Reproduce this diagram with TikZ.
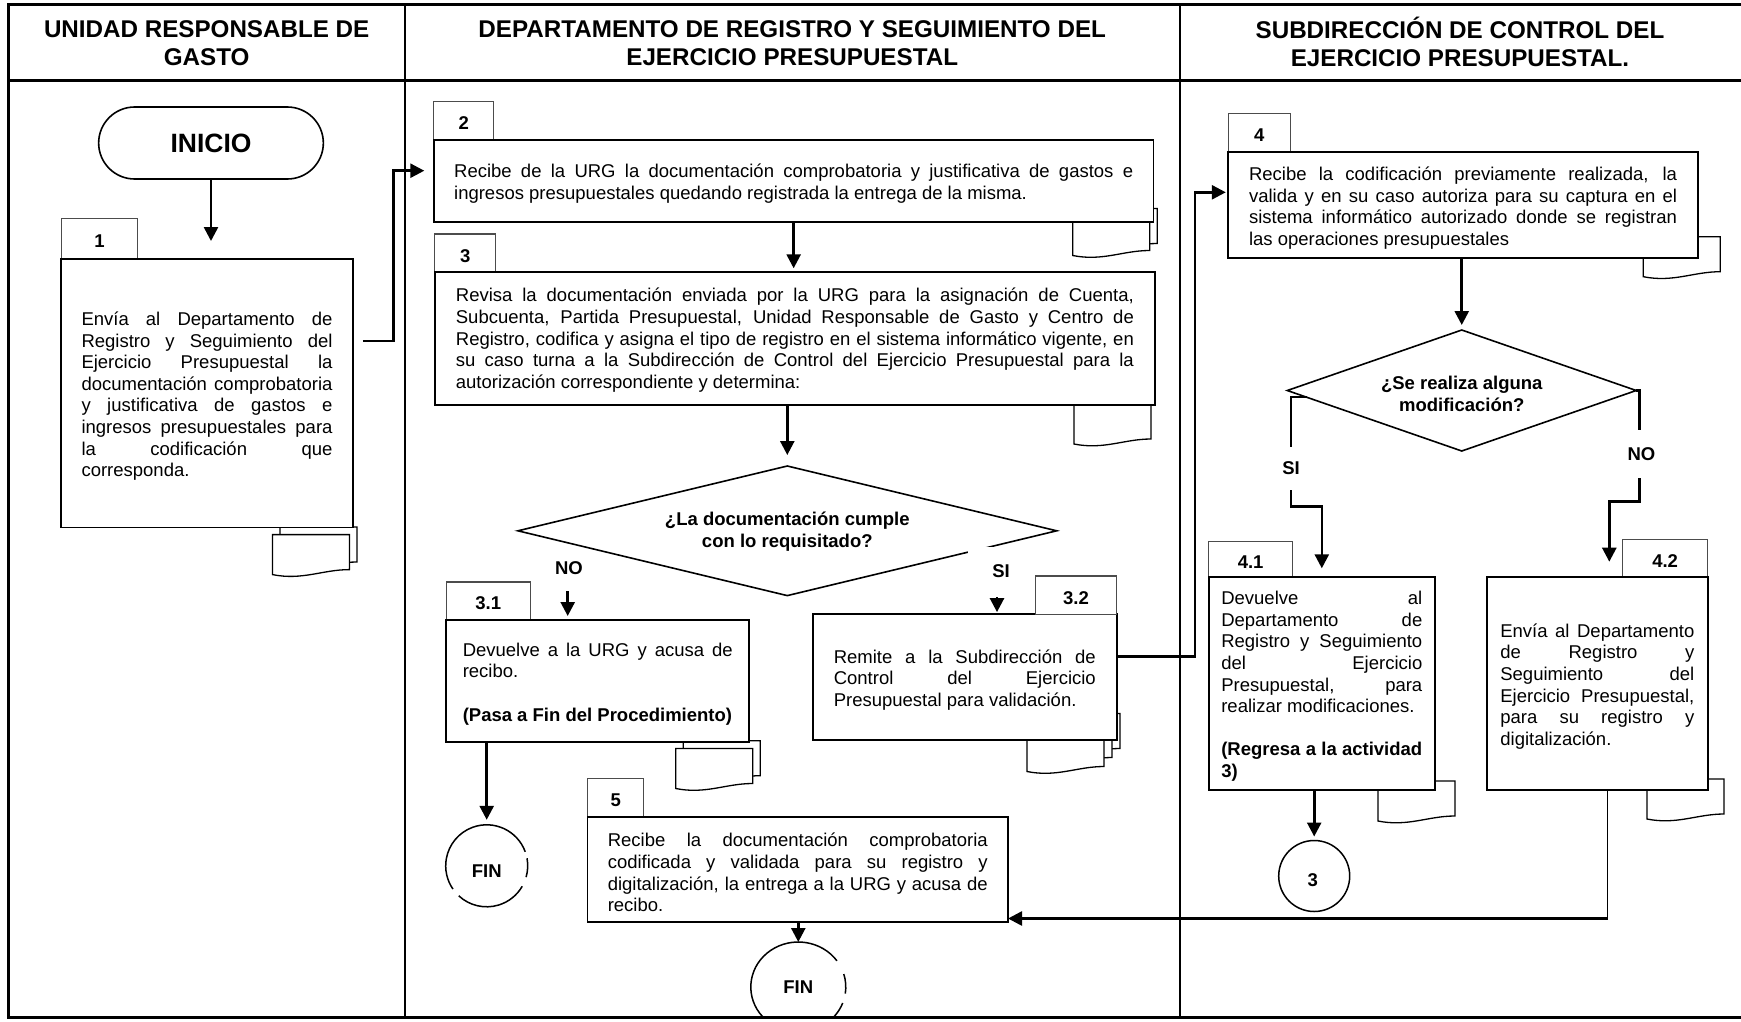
\documentclass[tikz,border=0pt]{standalone}
\usepackage{fontspec}
\setmainfont{Liberation Sans}
\usetikzlibrary{arrows.meta,calc,shapes.geometric}
\tolerance=10000
\hbadness=10000
\hyphenpenalty=10000
\exhyphenpenalty=10000

% one sheet of a document symbol, top-left corner at (#1,#2)
\newcommand\docpg[2]{%
  \begin{scope}[shift={(#1,#2)}]
    \draw[docp] (0,0) -- (77,0) -- (77,35) .. controls (50,35) and (30,46) .. (0,40) -- cycle;
  \end{scope}}

\begin{document}
\begin{tikzpicture}[x=1pt,y=-1pt,
  box/.style={draw, line width=1.9pt, fill=white, inner sep=0pt, outer sep=0pt},
  boxtext/.style={inner sep=0pt, align=justify, font=\fontsize{18.5pt}{21.6pt}\selectfont},
  tabbox/.style={draw=black!70, line width=1.1pt, fill=white, inner sep=0pt, outer sep=0pt,
    text height=18.2pt, text depth=0pt, font=\fontsize{18.5pt}{20pt}\selectfont\bfseries},
  docp/.style={draw, line width=1.3pt, fill=white},
  conn/.style={line width=2.6pt, -{Triangle[length=14pt,width=14pt]}},
  thinconn/.style={line width=1.4pt},
  ring/.style={line width=1.5pt},
  decision/.style={diamond, draw, line width=1.6pt, fill=white, inner sep=0pt, outer sep=0pt},
  dectext/.style={align=center, font=\fontsize{18.5pt}{22pt}\selectfont\bfseries},
  lbl/.style={inner sep=0pt, font=\fontsize{18.5pt}{20pt}\selectfont\bfseries},
  lanehead/.style={align=center, font=\fontsize{24.2pt}{28pt}\selectfont\bfseries},
  endtext/.style={font=\fontsize{18.5pt}{20pt}\selectfont\bfseries}
]
\useasboundingbox (0,0) rectangle (1741,1021);
\fill[white] (0,0) rectangle (1741,1021);

% ---------- document symbols (behind the activity boxes) ----------
\docpg{280}{527}\docpg{272.5}{534.6}
\docpg{1080.3}{208.5}\docpg{1072.7}{215.5}
\docpg{1074}{404}
\docpg{683.3}{740.7}\docpg{675.7}{748.5}
\docpg{1043}{713.5}\docpg{1035}{722.5}\docpg{1027}{731.5}
\docpg{1643.3}{236.7}
\docpg{1377.9}{781}
\docpg{1647}{779}

% ---------- start ----------
\node[draw, line width=1.6pt, rounded corners=36pt, minimum width=224.7pt, minimum height=72pt,
  inner sep=0pt, outer sep=0pt, font=\fontsize{26.5pt}{30pt}\selectfont\bfseries] (ini) at (211,143) {INICIO};

% ---------- number tabs ----------
\node[tabbox, minimum width=76.6pt, minimum height=40.4pt] (t1) at (99.5,238.8) {1};
\node[tabbox, minimum width=59.7pt, minimum height=38.3pt] (t2) at (463.65,120.85) {2};
\node[tabbox, minimum width=60.7pt, minimum height=38.3pt] (t3) at (465.15,253.15) {3};
\node[tabbox, minimum width=84pt, minimum height=37.7pt] (t31) at (488.3,600.85) {3.1};
\node[tabbox, minimum width=56.3pt, minimum height=38.5pt] (t5) at (615.65,797.55) {5};
\node[tabbox, minimum width=61.9pt, minimum height=38.4pt] (t4) at (1259.25,132.5) {4};
\node[tabbox, minimum width=84.1pt, minimum height=35pt] (t41) at (1250.65,559.2) {4.1};
\node[tabbox, minimum width=85.1pt, minimum height=37.4pt] (t42) at (1665.15,558) {4.2};

% ---------- activity boxes ----------
\node[box, minimum width=291.6pt, minimum height=268.5pt] (b1) at (207,393.25) {};
\node[boxtext, text width=251pt] (b1t) at ([yshift=-3pt]b1.center)
  {Envía al Departamento de\linebreak Registro y Seguimiento del\linebreak Ejercicio Presupuestal la\linebreak documentación comprobatoria\linebreak y justificativa de gastos e\linebreak ingresos presupuestales para\linebreak la codificación que\linebreak corresponda.};
\node[box, minimum width=719.7pt, minimum height=81.7pt] (b2) at (793.65,180.85) {};
\node[boxtext, text width=679pt] (b2t) at ([yshift=-3pt]b2.center)
  {Recibe de la URG la documentación comprobatoria y justificativa de gastos e\linebreak ingresos presupuestales quedando registrada la entrega de la misma.};
\node[box, minimum width=720.2pt, minimum height=133pt] (b3) at (794.9,338.8) {};
\node[boxtext, text width=678pt] (b3t) at ([yshift=-1.5pt]b3.center)
  {Revisa la documentación enviada por la URG para la asignación de Cuenta,\linebreak Subcuenta, Partida Presupuestal, Unidad Responsable de Gasto y Centro de\linebreak Registro, codifica y asigna el tipo de registro en el sistema informático vigente, en\linebreak su caso turna a la Subdirección de Control del Ejercicio Presupuestal para la\linebreak autorización correspondiente y determina:};
\node[box, minimum width=302.9pt, minimum height=122.6pt] (b31) at (597.75,681) {};
\node[boxtext, text width=270pt] (b31t) at ([yshift=-3pt]b31.center)
  {Devuelve a la URG y acusa de\linebreak recibo.\par\vspace{21.6pt}\textbf{(Pasa a Fin del Procedimiento)}};
\node[box, minimum width=303.6pt, minimum height=125.7pt] (b32) at (964.8,676.95) {};
\node[boxtext, text width=262pt] (b32t) at ([yshift=-3pt]b32.center)
  {Remite a la Subdirección de\linebreak Control del Ejercicio\linebreak Presupuestal para validación.};
\node[box, minimum width=420.5pt, minimum height=105.6pt] (b5) at (797.75,869.6) {};
\node[boxtext, text width=380pt] (b5t) at ([yshift=-3pt]b5.center)
  {Recibe la documentación comprobatoria\linebreak codificada y validada para su registro y\linebreak digitalización, la entrega a la URG y acusa de\linebreak recibo.};
\node[box, minimum width=469.4pt, minimum height=106.6pt] (b4) at (1463,205) {};
\node[boxtext, text width=428pt] (b4t) at ([yshift=-3pt]b4.center)
  {Recibe la codificación previamente realizada, la\linebreak valida y en su caso autoriza para su captura en el\linebreak sistema informático autorizado donde se registran\linebreak las operaciones presupuestales};
\node[box, minimum width=226.4pt, minimum height=213.3pt] (b41) at (1321.8,683.35) {};
\node[boxtext, text width=201pt] (b41t) at ([yshift=-3pt]b41.center)
  {Devuelve al\linebreak Departamento de\linebreak Registro y Seguimiento\linebreak del Ejercicio\linebreak Presupuestal, para\linebreak realizar modificaciones.\par\vspace{21.6pt}\textbf{(Regresa a la actividad\linebreak 3)}};
\node[box, minimum width=220.7pt, minimum height=213.3pt] (b42) at (1597.35,683.35) {};
\node[boxtext, text width=194pt] (b42t) at ([yshift=-3pt]b42.center)
  {Envía al Departamento\linebreak de Registro y\linebreak Seguimiento del\linebreak Ejercicio Presupuestal,\linebreak para su registro y\linebreak digitalización.};

% ---------- decisions ----------
\node[decision, minimum width=538.8pt, minimum height=129.6pt] (dec1) at (787.3,530.8) {};
\node[dectext] (dec1t) at ([yshift=-1pt]dec1.center) {¿La documentación cumple\\con lo requisitado?};
\node[decision, minimum width=348.9pt, minimum height=121pt] (dec2) at (1461.75,390.5) {};
\node[dectext] (dec2t) at ([yshift=-3.5pt]dec2.center) {¿Se realiza alguna\\modificación?};

% ---------- end points and connector ----------
\node[circle, minimum size=82pt, inner sep=0pt, outer sep=0pt, endtext, text height=23pt, text depth=0pt] (fin1) at (486.7,865.8) {FIN};
\draw[ring] (fin1.20) arc[start angle=20, end angle=214.6, radius=41pt];
\draw[ring] (fin1.227) arc[start angle=227, end angle=330, radius=41pt];
\draw[ring] (fin1.344) arc[start angle=344, end angle=370.6, radius=41pt];

\node[ellipse, minimum width=95pt, minimum height=90pt, inner sep=0pt, outer sep=0pt, endtext, text height=13.5pt, text depth=0pt] (fin2) at (798.3,987) {FIN};
\begin{scope}
  \clip (0,0) rectangle (1741,1016);
  \draw[ring] ([shift={(35.6:47.5pt and 45pt)}]fin2.center) arc[start angle=35.6, end angle=339.2, x radius=47.5pt, y radius=45pt];
  \draw[ring] ([shift={(-8.5:47.5pt and 45pt)}]fin2.center) arc[start angle=-8.5, end angle=16.7, x radius=47.5pt, y radius=45pt];
\end{scope}

\node[circle, draw, line width=1.5pt, minimum size=71pt, inner sep=0pt, outer sep=0pt, endtext, text height=21pt, text depth=0pt] (c3) at (1314.2,876) {\hspace*{-3pt}3};

% ---------- connectors ----------
\coordinate (b1out) at (362.8,341);
\coordinate (j1) at (393.4,170.7);
\coordinate (noA) at (567.7,591);
\coordinate (siA) at (997,597);
\coordinate (s1) at (1291,506.7);
\coordinate (n1) at (1639.7,501.7);
\coordinate (n2) at (1609.3,501.7);
\coordinate (m1) at (1607.5,918.5);
\coordinate (k1) at (1195,656.7);
\coordinate (k2) at (1195,192.3);

\draw[conn, shorten >=18pt] (ini.south) -- (ini.south |- b1.north);
\draw[conn, shorten >=9.5pt] (b1out) -| (j1) -- (j1 -| b2.west);
\draw[conn, shorten >=4pt] (b2.south) -- (b2.south |- b3.north);
\draw[conn, shorten >=11pt] (b3.south -| dec1.north) -- (dec1.north);
\draw[conn, shorten >=3.7pt] (noA) -- (noA |- b31.north);
\draw[conn, shorten >=2pt] (siA) -- (siA |- b32.north);
\draw[conn, shorten >=5pt] (fin1.north |- b31.south) -- (fin1.north);
\draw[conn] (b5.south -| fin2.north) -- (fin2.north);
\draw[conn, shorten >=2.5pt] (k1 -| b32.east) -- (k1) -- (k2) -- (k2 -| b4.west);
\draw[conn, shorten >=5pt] (b4.south -| dec2.north) -- (dec2.north);
\draw[conn, shorten >=8.4pt] ($(dec2.west)!0.11!(dec2.south)$) -| (s1) -| (b41.north);
\draw[conn, shorten >=15pt] (dec2.east) -| (n1) -- (n2) -- (n2 |- b42.north);
\draw[conn, shorten >=4pt] (c3.north |- b41.south) -- (c3.north);
\draw[thinconn] (m1 |- b42.south) -- (m1);
\draw[conn] ([xshift=0.7pt]m1) -- (m1 -| b5.east);

% ---------- branch labels ----------
\node[lbl] (no1) at (569,567.8) {NO};
\node[lbl, fill=white, minimum width=66pt, minimum height=48pt] (si1) at (1001,571) {SI};
\node[lbl, fill=white, minimum width=28pt, minimum height=43pt] (si2) at (1291,468.3) {SI};
\node[lbl, fill=white, minimum width=30pt, minimum height=48pt] (no2) at (1641.5,454) {NO};
% tab 3.2 sits over the patch behind the SI label
\node[tabbox, minimum width=81.3pt, minimum height=38.1pt] (t32) at (1075.95,595.05) {3.2};

% ---------- lanes and headings ----------
\node[lanehead] (h1) at (206.7,43) {UNIDAD RESPONSABLE DE\\GASTO};
\node[lanehead] (h2) at (792.2,43) {DEPARTAMENTO DE REGISTRO Y SEGUIMIENTO DEL\\EJERCICIO PRESUPUESTAL};
\node[lanehead] (h3) at (1460,42) {SUBDIRECCIÓN DE CONTROL DEL\\EJERCICIO PRESUPUESTAL.};

\draw[line width=2pt] (405,4.7) -- (405,1017);
\draw[line width=2pt] (1179.5,4.7) -- (1179.5,1017);
\draw[line width=3pt] (8.4,80.5) -- (1746,80.5);
\draw[line width=3pt] (1746,4.7) -- (8.4,4.7) -- (8.4,1017) -- (1746,1017);
\end{tikzpicture}
\end{document}
